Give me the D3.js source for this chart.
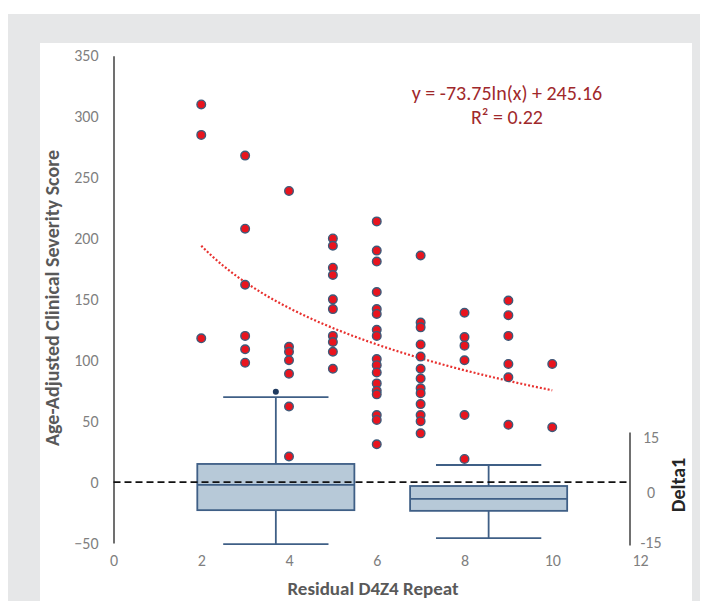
<!DOCTYPE html>
<html>
<head>
<meta charset="utf-8">
<script src="https://cdn.jsdelivr.net/npm/d3@7"></script>
<style>
  body { margin: 0; background: #fff; }
  svg { display: block; font-family: Carlito, Lato, "Open Sans", sans-serif; }
</style>
</head>
<body>
<div id="chart"></div>
<script>
// scatter: age-adjusted clinical severity score per residual D4Z4 repeat
const repeats = [2, 3, 4, 5, 6, 7, 8, 9, 10];
const scores = [
  [310, 285, 118],
  [268, 208, 162, 120, 109, 98],
  [239, 111, 107, 100, 89, 62, 21],
  [200, 194, 176, 170, 150, 142, 120, 115, 107, 93],
  [214, 190, 181, 156, 142, 138, 125, 120, 101, 96, 90, 81, 75, 72, 55, 51, 31],
  [186, 131, 127, 113, 103, 93, 85, 77, 73, 64, 55, 50, 40],
  [139, 119, 112, 100, 55, 19],
  [149, 137, 120, 97, 86, 47],
  [97, 45]
];

// log trendline shown in the chart
const trendA = -73.75;
const trendB = 245.16;
const trendLabel = 'y = -73.75ln(x) + 245.16';
const r2Label = 'R\u00b2 = 0.22';

// Delta1 box plots (secondary axis)
const boxCenters = [3.7, 8.55];
const boxQ1 = [-5.9, -6.1];
const boxMedian = [1.3, -2.7];
const boxQ3 = [7.3, 1.0];
const boxLow = [-15.6, -13.9];
const boxHigh = [26.4, 7.0];
const boxOutliers = [[27.9], []];

const xTicks = [0, 2, 4, 6, 8, 10, 12];
const yTicks = [-50, 0, 50, 100, 150, 200, 250, 300, 350];
const deltaTicks = [-15, 0, 15];

const width = 709, height = 601;
const svg = d3.select('#chart').append('svg')
  .attr('width', width).attr('height', height);

// background frame
svg.append('rect').attr('x', 8).attr('y', 14).attr('width', 692).attr('height', 587)
  .attr('fill', '#e6e7e8');
svg.append('rect').attr('x', 40).attr('y', 43).attr('width', 652).attr('height', 558)
  .attr('fill', '#fff');

const x = d3.scaleLinear().domain([0, 12]).range([113.5, 640]);
const y = d3.scaleLinear().domain([-50, 350]).range([543, 55.7]);
const yDelta = d3.scaleLinear().domain([-15, 15]).range([542, 437]);

const tickColor = '#7f7f7f';
const tickSize = 16;
const boxStroke = '#3f5f86';
const boxFill = '#b7c9d8';

// left axis
const yAxis = svg.append('g')
  .attr('transform', `translate(${x(0)},0)`)
  .call(d3.axisLeft(y).tickValues(yTicks).tickSize(0).tickPadding(15));
yAxis.select('.domain').attr('stroke', '#404040').attr('stroke-width', 1.5);
yAxis.selectAll('text').attr('fill', tickColor).attr('font-size', tickSize)
  .attr('font-family', 'Carlito, Lato, sans-serif');

// bottom axis (labels only)
const xAxis = svg.append('g')
  .attr('transform', 'translate(0,555)')
  .call(d3.axisBottom(x).tickValues(xTicks).tickSize(0).tickPadding(0));
xAxis.select('.domain').remove();
xAxis.selectAll('text').attr('fill', tickColor).attr('font-size', tickSize)
  .attr('font-family', 'Carlito, Lato, sans-serif');

// right Delta1 axis
const rightX = 630;
svg.append('line')
  .attr('x1', rightX).attr('x2', rightX)
  .attr('y1', yDelta(16.3)).attr('y2', yDelta(-16))
  .attr('stroke', '#404040').attr('stroke-width', 1.5);
svg.append('g').selectAll('text').data(deltaTicks).join('text')
  .attr('x', rightX + 21)
  .attr('y', d => yDelta(d) + (d === 0 ? 8 : 6))
  .attr('text-anchor', 'middle')
  .attr('font-size', tickSize)
  .attr('fill', tickColor)
  .text(d => d);

// box plots
const halfBox = 1.79, halfCap = 1.2;
const boxes = svg.append('g');
boxCenters.forEach((c, i) => {
  const g = boxes.append('g');
  g.append('line')
    .attr('x1', x(c)).attr('x2', x(c))
    .attr('y1', yDelta(boxHigh[i])).attr('y2', yDelta(boxLow[i]))
    .attr('stroke', boxStroke).attr('stroke-width', 1.8);
  [boxHigh[i], boxLow[i]].forEach(v => {
    g.append('line')
      .attr('x1', x(c - halfCap)).attr('x2', x(c + halfCap))
      .attr('y1', yDelta(v)).attr('y2', yDelta(v))
      .attr('stroke', boxStroke).attr('stroke-width', 1.8);
  });
  g.append('rect')
    .attr('x', x(c - halfBox)).attr('width', x(c + halfBox) - x(c - halfBox))
    .attr('y', yDelta(boxQ3[i])).attr('height', yDelta(boxQ1[i]) - yDelta(boxQ3[i]))
    .attr('fill', boxFill).attr('stroke', boxStroke).attr('stroke-width', 1.8);
  g.append('line')
    .attr('x1', x(c - halfBox)).attr('x2', x(c + halfBox))
    .attr('y1', yDelta(boxMedian[i])).attr('y2', yDelta(boxMedian[i]))
    .attr('stroke', boxStroke).attr('stroke-width', 1.8);
  boxOutliers[i].forEach(v => {
    g.append('circle')
      .attr('cx', x(c)).attr('cy', yDelta(v)).attr('r', 3)
      .attr('fill', '#1f3a5f');
  });
});

// zero reference line
svg.append('line')
  .attr('x1', x(0)).attr('x2', rightX)
  .attr('y1', y(0)).attr('y2', y(0))
  .attr('stroke', '#111').attr('stroke-width', 1.8)
  .attr('stroke-dasharray', '7,4');

// trendline
const line = d3.line()
  .x(d => x(d))
  .y(d => y(trendA * Math.log(d) + trendB));
svg.append('path')
  .datum(d3.range(2, 10.001, 0.1))
  .attr('d', line)
  .attr('fill', 'none')
  .attr('stroke', '#e8312f')
  .attr('stroke-width', 2.2)
  .attr('stroke-dasharray', '2,2');

// points
const pts = repeats.flatMap((r, i) => scores[i].map(s => ({x: r, y: s})));
svg.append('g').selectAll('circle').data(pts).join('circle')
  .attr('cx', d => x(d.x))
  .attr('cy', d => y(d.y))
  .attr('r', 4.3)
  .attr('fill', '#e8141e')
  .attr('stroke', '#3d5a7a')
  .attr('stroke-width', 1.4);

// equation
svg.append('text')
  .attr('x', 507).attr('y', 100)
  .attr('text-anchor', 'middle')
  .attr('font-size', 20)
  .attr('fill', '#a0282b')
  .text(trendLabel);
svg.append('text')
  .attr('x', 507).attr('y', 124)
  .attr('text-anchor', 'middle')
  .attr('font-size', 20)
  .attr('fill', '#a0282b')
  .text(r2Label);

// axis titles
svg.append('text')
  .attr('transform', 'translate(59,298) rotate(-90)')
  .attr('text-anchor', 'middle')
  .attr('font-size', 20).attr('font-weight', 'bold')
  .attr('fill', '#595959')
  .text('Age-Adjusted Clinical Severity Score');
svg.append('text')
  .attr('x', 373).attr('y', 595)
  .attr('text-anchor', 'middle')
  .attr('font-size', 19).attr('font-weight', 'bold')
  .attr('fill', '#595959')
  .text('Residual D4Z4 Repeat');
svg.append('text')
  .attr('transform', 'translate(685,485) rotate(-90)')
  .attr('text-anchor', 'middle')
  .attr('font-size', 20).attr('font-weight', 'bold')
  .attr('fill', '#262626')
  .text('Delta1');
</script>
</body>
</html>
